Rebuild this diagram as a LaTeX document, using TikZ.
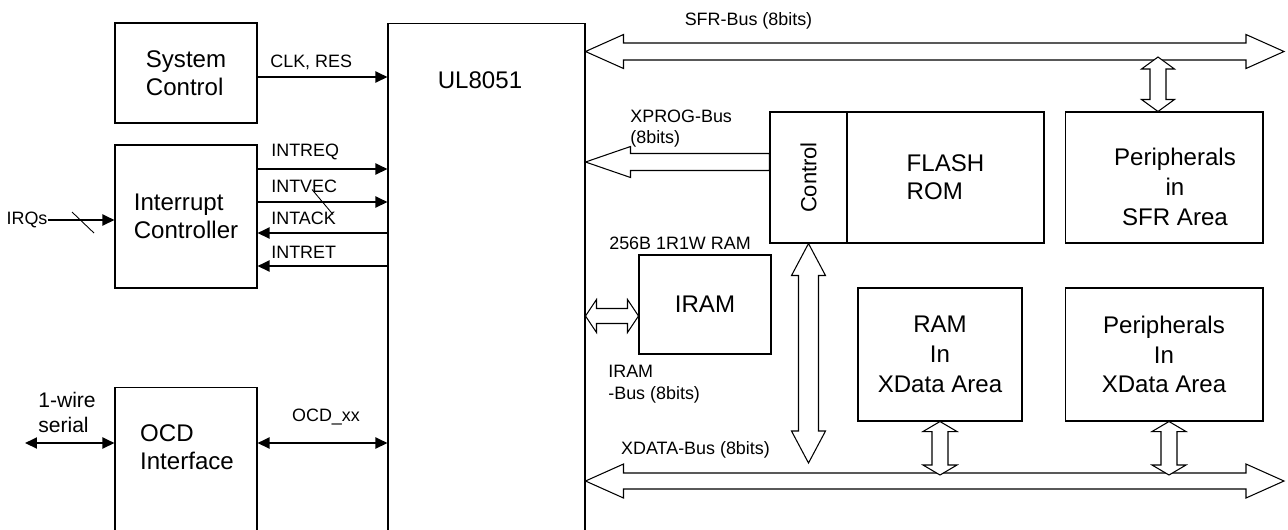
\documentclass[tikz,border=0pt]{standalone}
\usepackage{fontspec}
\setmainfont{Liberation Sans}
\usetikzlibrary{arrows.meta,calc}

\newcommand\bigtxt{\fontsize{13.7pt}{15.9pt}\selectfont}
\newcommand\areatxt{\fontsize{13.7pt}{17pt}\selectfont}
\newcommand\midtxt{\fontsize{12pt}{14.2pt}\selectfont}
\newcommand\smalltxt{\fontsize{10.2pt}{12.2pt}\selectfont}

% hollow bus arrows: tips, head length, half head width, half shaft width
\newcommand\dblbusH[5]{\draw[bus] (#1) -- ++(#3,-#4) -- ++(0,#4-#5) -- ($(#2)+(-#3,-#5)$) -- ++(0,-#4+#5) -- (#2) -- ++(-#3,#4) -- ++(0,-#4+#5) -- ($(#1)+(#3,#5)$) -- ++(0,#4-#5) -- cycle;}
\newcommand\dblbusV[5]{\draw[bus] (#1) -- ++(#4,#3) -- ++(-#4+#5,0) -- ($(#2)+(#5,-#3)$) -- ++(#4-#5,0) -- (#2) -- ++(-#4,-#3) -- ++(#4-#5,0) -- ($(#1)+(-#5,#3)$) -- ++(-#4+#5,0) -- cycle;}
\newcommand\sglbusL[5]{\draw[bus] (#1) -- ++(#3,-#4) -- ++(0,#4-#5) -- ($(#2)+(0,-#5)$) -- ++(0,2*#5) -- ($(#1)+(#3,#5)$) -- ++(0,#4-#5) -- cycle;}

\begin{document}
\begin{tikzpicture}[
    x=0.02cm, y=-0.02cm,
    blk/.style={draw, line width=0.6pt, inner sep=0pt, font=\bigtxt, align=left},
    txt/.style={inner sep=0pt, font=\bigtxt, align=left},
    lbl/.style={inner sep=0pt, font=\smalltxt, align=left},
    sig/.style={line width=1.1pt, -{Triangle[length=0.24cm,width=0.22cm]}},
    sigboth/.style={sig, {Triangle[length=0.24cm,width=0.22cm]}-{Triangle[length=0.24cm,width=0.22cm]}},
    bus/.style={draw, fill=white, line width=0.6pt, line join=miter}
  ]
  \useasboundingbox (0,0) rectangle (1288,529);
  \clip (0,0) rectangle (1288,529);

  % left side blocks
  \node[blk, minimum width=2.84cm, minimum height=2cm] (sysctl) at (186,73) {System\\Control};
  \node[blk, minimum width=2.84cm, minimum height=2.86cm] (intc) at (186,216.5) {Interrupt\\Controller};
  \node[blk, minimum width=2.84cm, minimum height=3.3cm] (ocd) at (186,469.5) {};
  \node[txt] (ocdtxt) at (187,447) {OCD\\Interface};

  % core
  \node[blk, minimum width=3.94cm, minimum height=10.9cm] (cpu) at (486.5,295.5) {};
  \node[txt] (cputxt) at (480,80) {UL8051};

  % right side blocks
  \node[blk, minimum width=1.54cm, minimum height=2.62cm] (ctrl) at (808.5,177.5) {};
  \node[txt, font=\fontsize{12.5pt}{14pt}\selectfont, rotate=90] (ctrltxt) at (ctrl) {Control};
  \node[blk, minimum width=3.94cm, minimum height=2.62cm] (flash) at (945.5,177.5) {FLASH\\ROM};
  \node[blk, minimum width=3.96cm, minimum height=2.62cm] (psfr) at (1164,177.5) {};
  \node[txt, font=\areatxt, align=center] (psfrtxt) at (1175,187) {Peripherals\\in\\SFR Area};
  \node[blk, minimum width=2.64cm, minimum height=1.98cm] (iram) at (705,304.5) {IRAM};
  \node[blk, font=\areatxt, align=center, minimum width=3.28cm, minimum height=2.66cm] (xram) at (940,354.5) {RAM\\In\\XData Area};
  \node[blk, font=\areatxt, align=center, minimum width=3.96cm, minimum height=2.66cm] (pxd) at (1164,354.5) {Peripherals\\In\\XData Area};

  % control and interrupt signals
  \draw[sig] (sysctl.east |- 0,77) -- (cpu.west |- 0,77);
  \node[lbl, anchor=west] (clk) at (270,62) {CLK, RES};
  \draw[sig] (intc.east |- 0,169) -- (cpu.west |- 0,169);
  \node[lbl, anchor=west] (intreq) at (271,152) {INTREQ};
  \draw[sig] (intc.east |- 0,202) -- (cpu.west |- 0,202);
  \node[lbl, anchor=west] (intvec) at (271,186) {INTVEC};
  \draw[sig] (cpu.west |- 0,233) -- (intc.east |- 0,233);
  \node[lbl, anchor=west] (intack) at (271,218) {INTACK};
  \draw[sig] (cpu.west |- 0,266) -- (intc.east |- 0,266);
  \node[lbl, anchor=west] (intret) at (271,252) {INTRET};
  \draw[line width=0.5pt] ($(intc.east |- 0,202)!0.5!(cpu.west |- 0,202)$) ++(-10.5,-12.5) -- ++(21,25);

  \node[lbl] (irqs) at (27,220) {IRQs};
  \draw[sig] (irqs.east) -- (intc.west |- irqs);
  \draw[line width=0.5pt] (83,222.5) ++(-11,-10.5) -- ++(22,21);

  % debug interface
  \node[txt, font=\midtxt] (serial) at (67,412.5) {1-wire\\serial};
  \coordinate (serialL) at (25,443);
  \draw[sigboth] (serialL) -- (ocd.west |- serialL);
  \draw[sigboth] (ocd.east |- serialL) -- (cpu.west |- serialL);
  \node[lbl] (ocdxx) at (326,417) {OCD\_xx};

  % buses
  \coordinate (sfrR) at (1284,51.5);
  \coordinate (sfrL) at (cpu.east |- sfrR);
  \dblbusH{sfrL}{sfrR}{38}{17}{8.5}
  \node[lbl] (sfrlbl) at (748.5,21) {SFR-Bus (8bits)};

  \coordinate (xprogL) at (cpu.east |- 0,162);
  \coordinate (xprogR) at (ctrl.west |- xprogL);
  \sglbusL{xprogL}{xprogR}{45}{15.5}{8.5}
  \node[lbl, anchor=west] (xproglbl) at (630,128.5) {XPROG-Bus\\(8bits)};

  \coordinate (iramL) at (cpu.east |- 0,316);
  \coordinate (iramR) at (iram.west |- iramL);
  \dblbusH{iramL}{iramR}{11}{16.5}{7.5}
  \node[lbl] (ramlbl) at (680,243) {256B 1R1W RAM};
  \node[lbl, anchor=west] (iramlbl) at (608,384) {IRAM\\-Bus (8bits)};

  \coordinate (ctrlB) at (ctrl.south |- 0,463);
  \dblbusV{ctrl.south}{ctrlB}{32}{17}{10}

  \coordinate (xdR) at (1284,481);
  \coordinate (xdL) at (cpu.east |- xdR);
  \dblbusH{xdL}{xdR}{38}{17}{8}
  \node[lbl] (xdlbl) at (695.5,450) {XDATA-Bus (8bits)};

  % bus taps
  \coordinate (sfrtap) at (1158,57);
  \dblbusV{sfrtap}{sfrtap |- psfr.north}{12}{16.5}{8}
  \coordinate (xramtap) at (xram.south |- 0,475);
  \dblbusV{xram.south}{xramtap}{10}{17}{8}
  \coordinate (pxdtap) at (1169,475);
  \dblbusV{pxdtap |- pxd.south}{pxdtap}{10}{17}{8}
\end{tikzpicture}
\end{document}
